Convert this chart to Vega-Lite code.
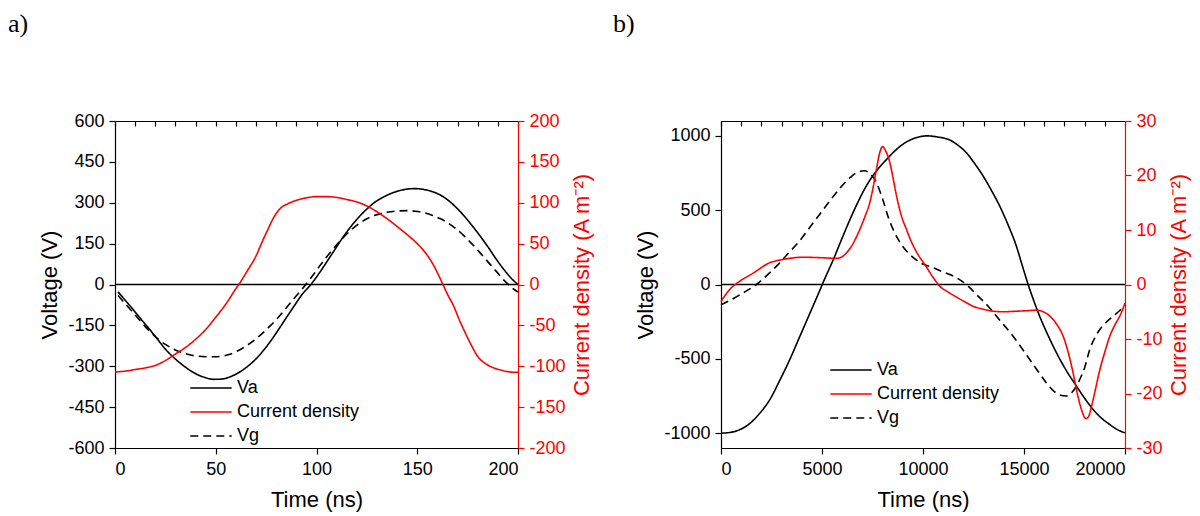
{
"$schema": "https://vega.github.io/schema/vega-lite/v6.json",
"padding": {"left": 8, "top": 11, "right": 5, "bottom": 5},
"spacing": 20,
"config": {
  "font": "Liberation Sans",
  "view": {"stroke": null},
  "axis": {"labelFont": "Liberation Sans", "labelFontSize": 18, "titleFont": "Liberation Sans", "titleFontSize": 22, "titleFontWeight": "normal", "labelColor": "black", "titleColor": "black", "domainColor": "black", "tickColor": "black", "grid": false, "tickSize": 6, "labelPadding": 5, "domainWidth": 1.2, "tickWidth": 1.2, "labelExpr": "datum.value < 0 ? '-' + abs(datum.value) : '' + datum.value"},
  "legend": {"orient": "none", "title": null, "labelFont": "Liberation Sans", "labelFontSize": 18, "labelColor": "black", "padding": 0, "rowPadding": 5, "symbolType": "M-2.3,0H2.3", "symbolSize": 324, "symbolStrokeWidth": 1.6, "labelOffset": 16},
  "title": {"font": "Liberation Serif", "fontSize": 26, "fontWeight": "normal", "color": "black", "anchor": "start", "frame": "group"}
},
"datasets": {
  "a_v": [
    {"t":1.5,"s":"Va","v":-27},{"t":5,"s":"Va","v":-57},{"t":9,"s":"Va","v":-92},{"t":13,"s":"Va","v":-128},{"t":17,"s":"Va","v":-163},{"t":21,"s":"Va","v":-200},{"t":25,"s":"Va","v":-237},{"t":29,"s":"Va","v":-267},{"t":33,"s":"Va","v":-292},{"t":37,"s":"Va","v":-314},{"t":41,"s":"Va","v":-331},{"t":45,"s":"Va","v":-342},{"t":49,"s":"Va","v":-348},{"t":53,"s":"Va","v":-347},{"t":57,"s":"Va","v":-339},{"t":61,"s":"Va","v":-325},{"t":65,"s":"Va","v":-305},{"t":69,"s":"Va","v":-280},{"t":73,"s":"Va","v":-248},{"t":77,"s":"Va","v":-210},{"t":81,"s":"Va","v":-167},{"t":85,"s":"Va","v":-122},{"t":89,"s":"Va","v":-78},{"t":93,"s":"Va","v":-35},{"t":97,"s":"Va","v":-2},{"t":101,"s":"Va","v":38},{"t":105,"s":"Va","v":82},{"t":109,"s":"Va","v":127},{"t":113,"s":"Va","v":172},{"t":117,"s":"Va","v":212},{"t":121,"s":"Va","v":247},{"t":125,"s":"Va","v":277},{"t":129,"s":"Va","v":302},{"t":133,"s":"Va","v":320},{"t":137,"s":"Va","v":334},{"t":141,"s":"Va","v":344},{"t":145,"s":"Va","v":350},{"t":149,"s":"Va","v":352},{"t":153,"s":"Va","v":349},{"t":157,"s":"Va","v":342},{"t":161,"s":"Va","v":330},{"t":165,"s":"Va","v":311},{"t":169,"s":"Va","v":285},{"t":173,"s":"Va","v":254},{"t":177,"s":"Va","v":218},{"t":181,"s":"Va","v":180},{"t":185,"s":"Va","v":139},{"t":189,"s":"Va","v":95},{"t":193,"s":"Va","v":55},{"t":197,"s":"Va","v":20},{"t":200,"s":"Va","v":0},
    {"t":1.5,"s":"Vg","v":-40},{"t":5,"s":"Vg","v":-70},{"t":9,"s":"Vg","v":-103},{"t":13,"s":"Vg","v":-138},{"t":17,"s":"Vg","v":-170},{"t":21,"s":"Vg","v":-198},{"t":25,"s":"Vg","v":-220},{"t":29,"s":"Vg","v":-237},{"t":33,"s":"Vg","v":-249},{"t":37,"s":"Vg","v":-258},{"t":41,"s":"Vg","v":-263},{"t":45,"s":"Vg","v":-265},{"t":49,"s":"Vg","v":-265},{"t":53,"s":"Vg","v":-263},{"t":57,"s":"Vg","v":-256},{"t":61,"s":"Vg","v":-243},{"t":65,"s":"Vg","v":-226},{"t":69,"s":"Vg","v":-205},{"t":73,"s":"Vg","v":-180},{"t":77,"s":"Vg","v":-152},{"t":81,"s":"Vg","v":-121},{"t":85,"s":"Vg","v":-86},{"t":89,"s":"Vg","v":-50},{"t":93,"s":"Vg","v":-16},{"t":97,"s":"Vg","v":22},{"t":101,"s":"Vg","v":62},{"t":105,"s":"Vg","v":101},{"t":109,"s":"Vg","v":137},{"t":113,"s":"Vg","v":170},{"t":117,"s":"Vg","v":199},{"t":121,"s":"Vg","v":223},{"t":125,"s":"Vg","v":241},{"t":129,"s":"Vg","v":254},{"t":133,"s":"Vg","v":262},{"t":137,"s":"Vg","v":267},{"t":141,"s":"Vg","v":270},{"t":145,"s":"Vg","v":271},{"t":149,"s":"Vg","v":269},{"t":153,"s":"Vg","v":264},{"t":157,"s":"Vg","v":255},{"t":161,"s":"Vg","v":243},{"t":165,"s":"Vg","v":227},{"t":169,"s":"Vg","v":206},{"t":173,"s":"Vg","v":180},{"t":177,"s":"Vg","v":150},{"t":181,"s":"Vg","v":118},{"t":185,"s":"Vg","v":84},{"t":189,"s":"Vg","v":50},{"t":193,"s":"Vg","v":16},{"t":197,"s":"Vg","v":-12},{"t":200,"s":"Vg","v":-28}
  ],
  "a_j": [
    {"t":0,"s":"Current density","j":-107},{"t":5,"s":"Current density","j":-106},{"t":10,"s":"Current density","j":-104},{"t":15,"s":"Current density","j":-102},{"t":20,"s":"Current density","j":-99},{"t":25,"s":"Current density","j":-93},{"t":30,"s":"Current density","j":-85},{"t":35,"s":"Current density","j":-77},{"t":40,"s":"Current density","j":-67},{"t":45,"s":"Current density","j":-55},{"t":50,"s":"Current density","j":-40},{"t":55,"s":"Current density","j":-24},{"t":60,"s":"Current density","j":-5},{"t":62,"s":"Current density","j":2},{"t":64,"s":"Current density","j":10},{"t":66,"s":"Current density","j":18},{"t":70,"s":"Current density","j":35},{"t":73,"s":"Current density","j":52},{"t":76,"s":"Current density","j":68},{"t":79,"s":"Current density","j":83},{"t":82,"s":"Current density","j":93},{"t":86,"s":"Current density","j":99},{"t":90,"s":"Current density","j":103},{"t":95,"s":"Current density","j":106},{"t":100,"s":"Current density","j":107.5},{"t":105,"s":"Current density","j":107.5},{"t":110,"s":"Current density","j":106.5},{"t":115,"s":"Current density","j":104},{"t":120,"s":"Current density","j":101},{"t":125,"s":"Current density","j":96},{"t":130,"s":"Current density","j":89},{"t":135,"s":"Current density","j":80.5},{"t":140,"s":"Current density","j":71},{"t":145,"s":"Current density","j":61},{"t":150,"s":"Current density","j":50},{"t":154,"s":"Current density","j":39},{"t":158,"s":"Current density","j":24},{"t":162,"s":"Current density","j":4},{"t":165,"s":"Current density","j":-12},{"t":168,"s":"Current density","j":-26},{"t":171,"s":"Current density","j":-44},{"t":174,"s":"Current density","j":-60},{"t":177,"s":"Current density","j":-75},{"t":180,"s":"Current density","j":-88},{"t":184,"s":"Current density","j":-97},{"t":188,"s":"Current density","j":-102},{"t":192,"s":"Current density","j":-105},{"t":196,"s":"Current density","j":-107},{"t":200,"s":"Current density","j":-107.5}
  ],
  "b_v": [
    {"t":0,"s":"Va","v":-1000},{"t":272,"s":"Va","v":-998},{"t":767,"s":"Va","v":-985},{"t":1427,"s":"Va","v":-935},{"t":1920,"s":"Va","v":-866},{"t":2415,"s":"Va","v":-775},{"t":2910,"s":"Va","v":-645},{"t":3405,"s":"Va","v":-505},{"t":3900,"s":"Va","v":-350},{"t":4396,"s":"Va","v":-195},{"t":4890,"s":"Va","v":-40},{"t":5060,"s":"Va","v":15},{"t":5552,"s":"Va","v":165},{"t":5960,"s":"Va","v":300},{"t":6377,"s":"Va","v":435},{"t":6800,"s":"Va","v":560},{"t":7202,"s":"Va","v":665},{"t":7700,"s":"Va","v":765},{"t":8192,"s":"Va","v":841},{"t":8600,"s":"Va","v":898},{"t":9017,"s":"Va","v":945},{"t":9500,"s":"Va","v":980},{"t":10000,"s":"Va","v":998},{"t":10200,"s":"Va","v":1000},{"t":10700,"s":"Va","v":993},{"t":11326,"s":"Va","v":972},{"t":11750,"s":"Va","v":935},{"t":12150,"s":"Va","v":886},{"t":12550,"s":"Va","v":815},{"t":12980,"s":"Va","v":729},{"t":13400,"s":"Va","v":630},{"t":13800,"s":"Va","v":527},{"t":14200,"s":"Va","v":405},{"t":14630,"s":"Va","v":255},{"t":14920,"s":"Va","v":125},{"t":15206,"s":"Va","v":0},{"t":15500,"s":"Va","v":-115},{"t":15780,"s":"Va","v":-215},{"t":16200,"s":"Va","v":-345},{"t":16610,"s":"Va","v":-460},{"t":17100,"s":"Va","v":-580},{"t":17600,"s":"Va","v":-684},{"t":18000,"s":"Va","v":-765},{"t":18424,"s":"Va","v":-841},{"t":18800,"s":"Va","v":-895},{"t":19245,"s":"Va","v":-942},{"t":19600,"s":"Va","v":-975},{"t":20000,"s":"Va","v":-998},
    {"t":0,"s":"Vg","v":-137},{"t":400,"s":"Vg","v":-110},{"t":800,"s":"Vg","v":-80},{"t":1300,"s":"Vg","v":-40},{"t":1800,"s":"Vg","v":5},{"t":2300,"s":"Vg","v":65},{"t":2800,"s":"Vg","v":130},{"t":3300,"s":"Vg","v":205},{"t":3900,"s":"Vg","v":295},{"t":4400,"s":"Vg","v":385},{"t":4900,"s":"Vg","v":475},{"t":5400,"s":"Vg","v":565},{"t":5900,"s":"Vg","v":650},{"t":6400,"s":"Vg","v":720},{"t":6800,"s":"Vg","v":758},{"t":7100,"s":"Vg","v":765},{"t":7400,"s":"Vg","v":742},{"t":7700,"s":"Vg","v":685},{"t":8000,"s":"Vg","v":575},{"t":8300,"s":"Vg","v":445},{"t":8600,"s":"Vg","v":348},{"t":8900,"s":"Vg","v":275},{"t":9265,"s":"Vg","v":213},{"t":9600,"s":"Vg","v":172},{"t":9925,"s":"Vg","v":142},{"t":10400,"s":"Vg","v":118},{"t":10915,"s":"Vg","v":88},{"t":11600,"s":"Vg","v":50},{"t":12235,"s":"Vg","v":-11},{"t":12700,"s":"Vg","v":-75},{"t":13225,"s":"Vg","v":-146},{"t":13800,"s":"Vg","v":-240},{"t":14460,"s":"Vg","v":-348},{"t":14900,"s":"Vg","v":-430},{"t":15285,"s":"Vg","v":-505},{"t":15700,"s":"Vg","v":-585},{"t":16110,"s":"Vg","v":-662},{"t":16500,"s":"Vg","v":-720},{"t":16800,"s":"Vg","v":-745},{"t":17100,"s":"Vg","v":-750},{"t":17400,"s":"Vg","v":-722},{"t":17760,"s":"Vg","v":-639},{"t":18000,"s":"Vg","v":-560},{"t":18256,"s":"Vg","v":-437},{"t":18500,"s":"Vg","v":-360},{"t":18750,"s":"Vg","v":-303},{"t":19100,"s":"Vg","v":-250},{"t":19413,"s":"Vg","v":-213},{"t":19700,"s":"Vg","v":-180},{"t":20000,"s":"Vg","v":-140}
  ],
  "b_j": [
    {"t":0,"s":"Current density","j":-3.1},{"t":436,"s":"Current density","j":-0.9},{"t":930,"s":"Current density","j":0.6},{"t":1594,"s":"Current density","j":2.1},{"t":2415,"s":"Current density","j":4.0},{"t":3080,"s":"Current density","j":4.6},{"t":4070,"s":"Current density","j":5.0},{"t":5060,"s":"Current density","j":4.9},{"t":5717,"s":"Current density","j":4.8},{"t":6000,"s":"Current density","j":5.1},{"t":6212,"s":"Current density","j":5.8},{"t":6550,"s":"Current density","j":7.6},{"t":6870,"s":"Current density","j":10.1},{"t":7150,"s":"Current density","j":12.7},{"t":7365,"s":"Current density","j":15},{"t":7550,"s":"Current density","j":18.2},{"t":7697,"s":"Current density","j":21.2},{"t":7860,"s":"Current density","j":24.2},{"t":8000,"s":"Current density","j":25.3},{"t":8140,"s":"Current density","j":24.6},{"t":8357,"s":"Current density","j":22.4},{"t":8520,"s":"Current density","j":19.5},{"t":8687,"s":"Current density","j":16.3},{"t":8930,"s":"Current density","j":12.6},{"t":9182,"s":"Current density","j":10.1},{"t":9430,"s":"Current density","j":7.8},{"t":9677,"s":"Current density","j":6.0},{"t":10170,"s":"Current density","j":3.2},{"t":10500,"s":"Current density","j":1.3},{"t":10830,"s":"Current density","j":-0.3},{"t":11250,"s":"Current density","j":-1.4},{"t":11657,"s":"Current density","j":-2.3},{"t":12080,"s":"Current density","j":-3.2},{"t":12480,"s":"Current density","j":-4.0},{"t":12950,"s":"Current density","j":-4.5},{"t":13470,"s":"Current density","j":-4.9},{"t":14000,"s":"Current density","j":-5.0},{"t":14630,"s":"Current density","j":-4.9},{"t":15200,"s":"Current density","j":-4.8},{"t":15620,"s":"Current density","j":-4.7},{"t":15950,"s":"Current density","j":-5.0},{"t":16280,"s":"Current density","j":-5.8},{"t":16600,"s":"Current density","j":-7.2},{"t":16940,"s":"Current density","j":-9.5},{"t":17200,"s":"Current density","j":-12.6},{"t":17435,"s":"Current density","j":-16.3},{"t":17650,"s":"Current density","j":-20.2},{"t":17850,"s":"Current density","j":-23},{"t":18060,"s":"Current density","j":-24.6},{"t":18200,"s":"Current density","j":-24.2},{"t":18340,"s":"Current density","j":-22.4},{"t":18550,"s":"Current density","j":-19},{"t":18750,"s":"Current density","j":-15.7},{"t":19000,"s":"Current density","j":-12.4},{"t":19245,"s":"Current density","j":-9.5},{"t":19500,"s":"Current density","j":-7.4},{"t":19740,"s":"Current density","j":-5.8},{"t":20000,"s":"Current density","j":-3.4}
  ]
},
"hconcat": [
  {
    "width": 403, "height": 327,
    "title": {"text": "a)", "dx": -107, "offset": 75},
    "layer": [
      {"layer": [
        {"data": {"name": "a_v"},
         "mark": {"type": "line", "strokeWidth": 1.6, "interpolate": "monotone"},
         "encoding": {
           "x": {"field": "t", "type": "quantitative", "scale": {"domain": [0, 200], "nice": false}, "axis": {"values": [0, 50, 100, 150, 200], "title": "Time (ns)", "titlePadding": 11, "labelPadding": 6}},
           "y": {"field": "v", "type": "quantitative", "scale": {"domain": [-600, 600], "nice": false}, "axis": {"values": [-600, -450, -300, -150, 0, 150, 300, 450, 600], "title": "Voltage (V)", "titlePadding": 6}},
           "color": {"field": "s", "type": "nominal", "scale": {"domain": ["Va", "Current density", "Vg"], "range": ["black", "red", "black"]}, "legend": {"legendX": 86, "legendY": 257}},
           "strokeDash": {"field": "s", "type": "nominal", "scale": {"domain": ["Va", "Current density", "Vg"], "range": [[1, 0], [1, 0], [8, 5]]}, "legend": {"legendX": 86, "legendY": 257}}
         }},
        {"data": {"values": [{}]},
         "mark": {"type": "rule", "strokeWidth": 1.6, "color": "black"},
         "encoding": {"y": {"datum": 0}}}
      ]},
      {"data": {"name": "a_j"},
       "mark": {"type": "line", "strokeWidth": 1.6, "interpolate": "monotone"},
       "encoding": {
         "x": {"field": "t", "type": "quantitative", "scale": {"domain": [0, 200], "nice": false}, "axis": {"orient": "top", "values": [0,10,20,30,40,50,60,70,80,90,100,110,120,130,140,150,160,170,180,190,200], "labels": false, "title": null, "tickSize": -5}},
         "y": {"field": "j", "type": "quantitative", "scale": {"domain": [-200, 200], "nice": false}, "axis": {"orient": "right", "values": [-200, -150, -100, -50, 0, 50, 100, 150, 200], "title": "Current density (A m⁻²)", "titleAngle": 270, "titleBaseline": "top", "titlePadding": 6, "labelColor": "red", "titleColor": "red", "domainColor": "red", "tickColor": "red"}},
         "color": {"field": "s", "type": "nominal", "scale": {"domain": ["Va", "Current density", "Vg"], "range": ["black", "red", "black"]}},
         "strokeDash": {"field": "s", "type": "nominal", "scale": {"domain": ["Va", "Current density", "Vg"], "range": [[1, 0], [1, 0], [8, 5]]}}
       }}
    ],
    "resolve": {"scale": {"y": "independent"}, "axis": {"x": "independent", "y": "independent"}}
  },
  {
    "width": 404, "height": 327,
    "title": {"text": "b)", "dx": -108, "offset": 75},
    "layer": [
      {"layer": [
        {"data": {"values": [{}]},
         "mark": {"type": "rule", "strokeWidth": 1.6, "color": "black"},
         "encoding": {"y": {"datum": 0}}},
        {"data": {"name": "b_v"},
         "mark": {"type": "line", "strokeWidth": 1.6, "interpolate": "monotone"},
         "encoding": {
           "x": {"field": "t", "type": "quantitative", "scale": {"domain": [0, 20000], "nice": false}, "axis": {"values": [0, 5000, 10000, 15000, 20000], "title": "Time (ns)", "titlePadding": 11, "labelPadding": 6}},
           "y": {"field": "v", "type": "quantitative", "scale": {"domain": [-1100, 1100], "nice": false}, "axis": {"values": [-1000, -500, 0, 500, 1000], "title": "Voltage (V)", "titlePadding": 6}},
           "color": {"field": "s", "type": "nominal", "scale": {"domain": ["Va", "Current density", "Vg"], "range": ["black", "red", "black"]}, "legend": {"legendX": 120, "legendY": 239}},
           "strokeDash": {"field": "s", "type": "nominal", "scale": {"domain": ["Va", "Current density", "Vg"], "range": [[1, 0], [1, 0], [8, 5]]}, "legend": {"legendX": 120, "legendY": 239}}
         }}
      ]},
      {"data": {"name": "b_j"},
       "mark": {"type": "line", "strokeWidth": 1.6, "interpolate": "monotone"},
       "encoding": {
         "x": {"field": "t", "type": "quantitative", "scale": {"domain": [0, 20000], "nice": false}, "axis": {"orient": "top", "values": [0,1000,2000,3000,4000,5000,6000,7000,8000,9000,10000,11000,12000,13000,14000,15000,16000,17000,18000,19000,20000], "labels": false, "title": null, "tickSize": -5}},
         "y": {"field": "j", "type": "quantitative", "scale": {"domain": [-30, 30], "nice": false}, "axis": {"orient": "right", "values": [-30, -20, -10, 0, 10, 20, 30], "title": "Current density (A m⁻²)", "titleAngle": 270, "titleBaseline": "top", "titlePadding": 6, "labelColor": "red", "titleColor": "red", "domainColor": "red", "tickColor": "red"}},
         "color": {"field": "s", "type": "nominal", "scale": {"domain": ["Va", "Current density", "Vg"], "range": ["black", "red", "black"]}},
         "strokeDash": {"field": "s", "type": "nominal", "scale": {"domain": ["Va", "Current density", "Vg"], "range": [[1, 0], [1, 0], [8, 5]]}}
       }}
    ],
    "resolve": {"scale": {"y": "independent"}, "axis": {"x": "independent", "y": "independent"}}
  }
],
"resolve": {"scale": {"color": "independent", "strokeDash": "independent"}, "legend": {"color": "independent", "strokeDash": "independent"}}
}
